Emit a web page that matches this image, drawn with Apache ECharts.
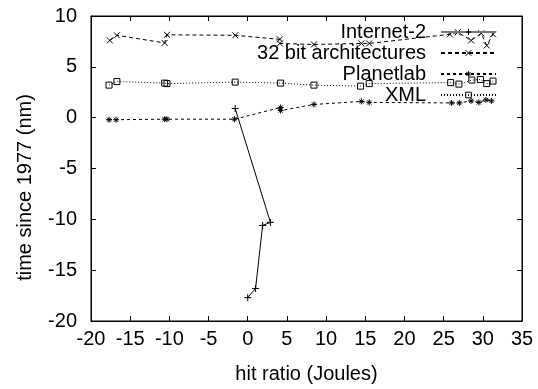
<!DOCTYPE html>
<html>
<head>
<meta charset="utf-8">
<script src="https://cdn.jsdelivr.net/npm/echarts@6/dist/echarts.min.js"></script>
<style>
  html, body { margin: 0; padding: 0; background: #fff; }
  #main-chart-1 { width: 538px; height: 389px; }
</style>
</head>
<body>
<div id="main-chart-1"></div>
<script>
// Veriler (x, y)
const seriesNames = ["Internet-2", "32 bit architectures", "Planetlab", "XML"];

const internet2 = [[-1.6, 0.9], [2.9, -10.3], [1.9, -10.6], [1.0, -16.8], [0.0, -17.7]];

const bit32 = [[-17.6, 7.6], [-16.7, 8.1], [-10.6, 7.35], [-10.3, 8.15], [-1.6, 8.1],
    [4.1, 7.7], [4.1, 7.3], [8.45, 7.2], [14.5, 7.3], [15.5, 7.3],
    [25.8, 8.2], [26.8, 8.4], [28.5, 7.6], [29.8, 8.3], [30.5, 7.1], [31.3, 8.2]];

const planetlab = [[-17.7, -0.2], [-16.8, -0.2], [-10.6, -0.15], [-10.3, -0.15], [-1.7, -0.15],
    [4.2, 1.0], [4.2, 0.7], [8.45, 1.3], [14.5, 1.6], [15.5, 1.5],
    [26.0, 1.45], [27.0, 1.45], [28.5, 1.65], [29.5, 1.5], [30.4, 1.75], [31.1, 1.65]];

const xml = [[-17.7, 3.2], [-16.7, 3.55], [-10.6, 3.4], [-10.3, 3.35], [-1.6, 3.5],
    [4.2, 3.4], [8.45, 3.2], [14.4, 3.1], [15.5, 3.35],
    [25.9, 3.45], [26.95, 3.3], [28.6, 3.7], [29.7, 3.75], [30.5, 3.35], [31.3, 3.6]];

const xTicks = { min: -20, max: 35, interval: 5 };
const yTicks = { min: -20, max: 10, interval: 5 };

// Semboller (gnuplot tarzı)
const SYM_PLUS = 'path://M0,5L10,5M5,0L5,10';
const SYM_CROSS = 'path://M0,0L10,10M0,10L10,0';
const SYM_STAR = 'path://M0,5L10,5M5,0L5,10M1.5,1.5L8.5,8.5M1.5,8.5L8.5,1.5';

const FONT = 'Liberation Sans, Arial, sans-serif';
const FS = 20;

function mkSeries(name, data, symbol, dash, size) {
    return {
        name: name,
        type: 'line',
        data: data,
        symbol: symbol,
        symbolSize: size,
        showAllSymbol: true,
        animation: false,
        lineStyle: { color: '#000', width: 1, type: dash },
        itemStyle: { color: 'transparent', borderColor: '#000', borderWidth: 1 }
    };
}

const chart = echarts.init(document.getElementById('main-chart-1'));

const tickIn = { show: true, inside: true, length: 5, lineStyle: { color: '#000' } };
const axLine = { show: true, onZero: false, lineStyle: { color: '#000' } };

// legend: Internet-2 örneği referansta kalın gri görünüyor
const legendData = seriesNames.map((n, i) => i === 0
    ? { name: n, lineStyle: { color: '#777', width: 2 } }
    : { name: n });

chart.setOption({
    backgroundColor: '#fff',
    textStyle: { fontFamily: FONT },
    grid: { left: 91, right: 16, top: 16, bottom: 63, show: true, borderColor: '#000', borderWidth: 1, backgroundColor: 'transparent' },
    legend: {
        orient: 'vertical',
        right: 41,
        top: 22,
        padding: 0,
        align: 'right',
        itemWidth: 55,
        itemHeight: 7,
        itemGap: 1,
        itemStyle: { color: 'transparent', borderColor: '#000', borderWidth: 1 },
        textStyle: { fontFamily: FONT, fontSize: FS, color: '#000', padding: [0, 10, 0, 0] },
        data: legendData
    },
    xAxis: [{
        type: 'value', min: xTicks.min, max: xTicks.max, interval: xTicks.interval,
        name: 'hit ratio (Joules)', nameLocation: 'middle', nameGap: 43,
        nameTextStyle: { fontFamily: FONT, fontSize: FS, color: '#000' },
        axisLine: axLine,
        axisTick: tickIn,
        axisLabel: { fontFamily: FONT, fontSize: FS, color: '#000', margin: 8 },
        splitLine: { show: false }
    }, {
        type: 'value', position: 'top', min: xTicks.min, max: xTicks.max, interval: xTicks.interval,
        axisLine: axLine,
        axisTick: tickIn, axisLabel: { show: false }, splitLine: { show: false }
    }],
    yAxis: [{
        type: 'value', min: yTicks.min, max: yTicks.max, interval: yTicks.interval,
        name: 'time since 1977 (nm)', nameLocation: 'middle', nameGap: 56, nameRotate: 90,
        nameTextStyle: { fontFamily: FONT, fontSize: FS, color: '#000', padding: [0, 38, 0, 0] },
        axisLine: axLine,
        axisTick: tickIn,
        axisLabel: { fontFamily: FONT, fontSize: FS, color: '#000', margin: 14 },
        splitLine: { show: false }
    }, {
        type: 'value', position: 'right', min: yTicks.min, max: yTicks.max, interval: yTicks.interval,
        axisLine: axLine,
        axisTick: tickIn, axisLabel: { show: false }, splitLine: { show: false }
    }],
    series: [
        mkSeries(seriesNames[0], internet2, SYM_PLUS, 'solid', 7),
        mkSeries(seriesNames[1], bit32, SYM_CROSS, [4, 3], 6),
        mkSeries(seriesNames[2], planetlab, SYM_STAR, [3, 3], 6),
        mkSeries(seriesNames[3], xml, 'rect', [1, 2], 6)
    ]
});

window.addEventListener('resize', () => chart.resize());
</script>
</body>
</html>
